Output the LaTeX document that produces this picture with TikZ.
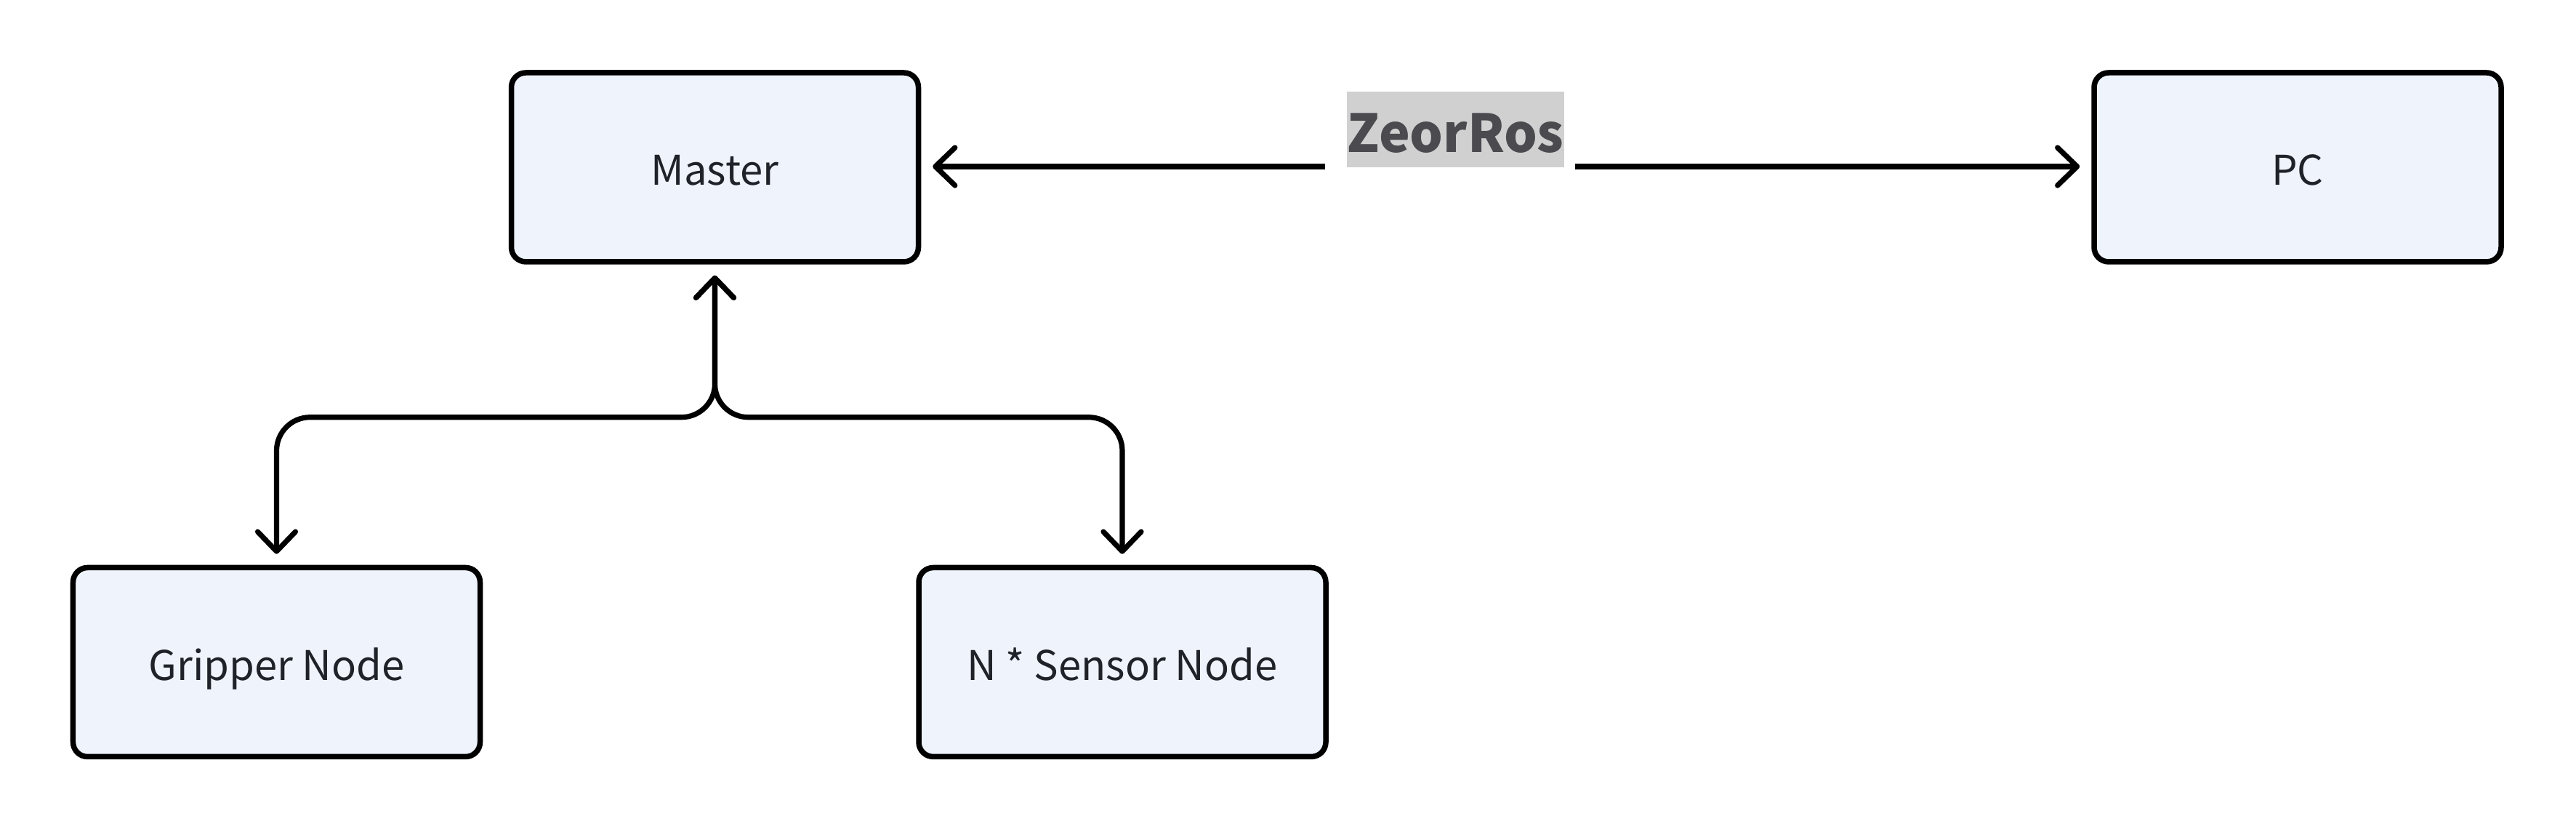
\documentclass[tikz,border=0pt]{standalone}
\usepackage{fontspec}
\setmainfont{Noto Sans CJK SC}
\usetikzlibrary{arrows.meta}
\definecolor{boxfill}{HTML}{EEF3FC}
\definecolor{boxtext}{HTML}{1F2329}
\definecolor{lblbg}{HTML}{D0D0D0}
\definecolor{lbltext}{HTML}{4A4A4F}
\tikzset{
  blockbox/.style={draw=black, line width=0.075cm, fill=boxfill, rounded corners=0.2cm,
    minimum width=5.6cm, minimum height=2.6cm, inner sep=0pt, text=boxtext,
    text height=0.5cm, text depth=0pt,
    font=\fontsize{16}{19}\selectfont},
  conn/.style={line width=0.072cm, line cap=round, line join=round,
    {Straight Barb[length=0.27cm,width=0.52cm,round]}-{Straight Barb[length=0.27cm,width=0.52cm,round]}},
  connone/.style={line width=0.072cm, line cap=butt, line join=round,
    -{Straight Barb[length=0.27cm,width=0.52cm,round]}},
  lblstyle/.style={fill=lblbg, text=lbltext, inner sep=0pt, minimum width=2.93cm,
    minimum height=1.04cm, text height=0.63cm, text depth=0pt,
    font=\bfseries\fontsize{20.5}{24}\selectfont}
}
\begin{document}
\begin{tikzpicture}
\useasboundingbox (0,0) rectangle (35.44,11.44);
\node[blockbox] (master) at (9.835,9.14) {Master};
\node[blockbox] (pc) at (31.61,9.14) {PC};
\node[blockbox] (gripper) at (3.805,2.335) {Gripper Node};
\node[blockbox] (sensor) at (15.44,2.335) {N * Sensor Node};
\node[lblstyle] (lbl) at (20.025,9.66) {ZeorRos};
\coordinate (gapL) at (18.23,9.15);
\coordinate (gapR) at (21.67,9.15);
\draw[connone, shorten >=0.16cm] (gapL) -- (master.east |- gapL);
\draw[connone, shorten >=0.16cm] (gapR) -- (pc.west |- gapR);
\draw[conn, rounded corners=0.46cm, shorten <=0.15cm, shorten >=0.15cm]
  (master.south) -- ++(0,-2.1) -| (gripper.north);
\draw[conn, rounded corners=0.46cm, shorten <=0.15cm, shorten >=0.15cm]
  (master.south) -- ++(0,-2.1) -| (sensor.north);
\end{tikzpicture}
\end{document}
